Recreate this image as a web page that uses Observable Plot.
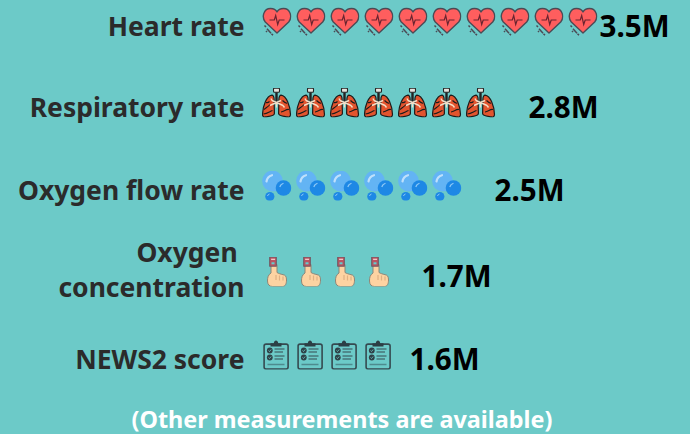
<!DOCTYPE html>
<html><head><meta charset="utf-8">
<script src="https://cdn.jsdelivr.net/npm/d3@7"></script>
<script src="https://cdn.jsdelivr.net/npm/@observablehq/plot@0.6"></script>
<style>
html,body{margin:0;padding:0;background:#6ccac8;overflow:hidden}
#c{width:690px;font:700 23.4px "Noto Sans",sans-serif;color:#fff;text-align:center;padding-right:6px;box-sizing:border-box;line-height:26px;margin-top:0}
</style></head><body><div id="chart"></div><div id="c">(Other measurements are available)</div>
<script>
const measures = ["Heart rate","Respiratory rate","Oxygen flow rate","Oxygen concentration","NEWS2 score"];
const axisLabels = ["Heart rate","Respiratory rate","Oxygen flow rate","Oxygen\u00a0\nconcentration","NEWS2 score"];
const millions = [3.5,2.79,2.45,1.72,1.6];
const valueLabels = ["3.5M","2.8M","2.5M","1.7M","1.6M"];
const iconCounts = [10,7,6,4,4];
const iconStepM = 0.34, iconStartM = 0.27;

const svgUri = s => "data:image/svg+xml," + encodeURIComponent(`<svg xmlns="http://www.w3.org/2000/svg" viewBox="0 0 30 30" width="90" height="90">${s}</svg>`);
const heart = svgUri(`
<path d="M15.5 26.5 L3.8 15.5 C-0.2 10.5 2.2 2 9 2 C12.2 2 14.6 3.6 15.5 5.4 C16.4 3.6 18.8 2 22 2 C28.8 2 31.2 10.5 27.2 15.5 Z" fill="#ff5e5e" stroke="#4b4b55" stroke-width="1.4" stroke-linejoin="round"/>
<path d="M8 13.5 H12.8 L14.2 9 L16.2 18 L17.7 13.5 H23" fill="none" stroke="#6b2530" stroke-width="1.2"/>
<path d="M3 19 L4.5 20.5 M5.5 22.3 L9.5 26.8 M4.5 24.5 L5.5 25.5 M10 27.3 L11.5 28.8" stroke="#4b4b55" stroke-width="1.5" fill="none"/>`);
const lungs = svgUri(`
<rect x="12" y="0.6" width="6" height="4.2" rx="1" fill="#e6e3de" stroke="#222" stroke-width="1.1"/>
<path d="M15 5 V15" stroke="#222" stroke-width="2.4"/>
<path d="M12.6 12 C12.6 9 11.5 7.6 10.4 7.6 C5 8.5 1.4 18 1 27 C1 29.4 3 29.7 4.2 29.4 C7.4 28.8 12.9 28.6 12.9 26 Z" fill="#e2542e" stroke="#1d1d1d" stroke-width="1.2"/>
<path d="M17.4 12 C17.4 9 18.5 7.6 19.6 7.6 C25 8.5 28.6 18 29 27 C29 29.4 27 29.7 25.8 29.4 C22.6 28.8 17.1 28.6 17.1 26 Z" fill="#e2542e" stroke="#1d1d1d" stroke-width="1.2"/>
<path d="M2.5 22 C5 20 7 19 8.5 17 M2 26.5 C6 26 8 24 11 23 M4.5 15 C6 15.5 7 15 8 14 M27.5 22 C25 21 23 24 19.5 24.5 M21 13 C23 15 24.5 16 25.5 15.5" fill="none" stroke="#1d1d1d" stroke-width="1.1"/>
<path d="M15 15 L10.5 13 M15 15 L8.5 18 M15 15 L19.5 13 M15 15 L21.5 18 M15 15 V20 M10.5 13 L9.5 11 M21.5 18 L23 20" stroke="#f3ddc6" stroke-width="1.4" fill="none"/>`);
const bubbles = svgUri(`
<circle cx="11" cy="10.5" r="10.4" fill="#63b4f4"/>
<path d="M5 11 C5.5 7.5 7.5 5.5 10.5 4.7" stroke="#bfe0fb" stroke-width="2.2" fill="none" stroke-linecap="round"/>
<circle cx="22" cy="17.5" r="7.8" fill="#1e88e5"/>
<path d="M18.5 16 C19 14.5 20 13.5 21.5 13" stroke="#8ec8f6" stroke-width="1.3" fill="none" stroke-linecap="round"/>
<circle cx="8.3" cy="26" r="4.6" fill="#1e88e5"/>
<path d="M6 25.5 C6.2 24.5 7 23.8 8 23.5" stroke="#8ec8f6" stroke-width="1" fill="none"/>`);
const finger = svgUri(`
<path d="M9.5 8 V16.5 C6.5 18.5 6 21 6 24.5 C6 28 8 30 11 30 H21 C24 30 25 27 25 23.5 C25 20 24 18.5 21.5 18.2 C19 17.5 17 17 15.5 16 V8 Z" fill="#fdd3a2" stroke="#8e8678" stroke-width="1"/>
<path d="M14.5 23.5 V18.5 M18 24 V19 M21.5 24 V20" stroke="#e0b184" stroke-width="1.2" fill="none"/>
<rect x="8.2" y="0.5" width="6.6" height="9.2" fill="#bb5562" stroke="#6e5660" stroke-width="1"/>
<rect x="9.6" y="2.2" width="4" height="1.3" fill="#f3c4c4"/>
<rect x="10" y="5.8" width="3" height="2" fill="#62cdd0"/>`);
const clipboard = svgUri(`
<rect x="2.6" y="4.6" width="24" height="25" rx="2" fill="none" stroke="#354a50" stroke-width="1.6"/>
<path d="M9 7 V3.8 H12.3 C12.6 0.2 16.4 0.2 16.7 3.8 H20 V7 Z" fill="#2c3f45"/>
<circle cx="8.3" cy="11" r="2.9" fill="#2f4248"/><circle cx="8.3" cy="18" r="2.9" fill="#2f4248"/>
<path d="M7 11 L8 12 L9.7 10 M7 18 L8 19 L9.7 17" stroke="#6ccac8" stroke-width="0.8" fill="none"/>
<path d="M13 9.5 H23 M13 12.5 H21.5 M13 16.5 H23 M13 19.5 H21.5" stroke="#354a50" stroke-width="1.2"/>
<path d="M6 25 H23" stroke="#4d8b8e" stroke-width="1.6"/>`);
const iconSrc = [heart,lungs,bubbles,finger,clipboard];

const icons = measures.flatMap((m,r) => d3.range(iconCounts[r]).map(i => ({m, pos: iconStartM + iconStepM*i, src: iconSrc[r]})));
const rows = measures.map((m,r) => ({m, v: millions[r], label: valueLabels[r], axis: axisLabels[r]}));

const font = '"Noto Sans"';
const plot = Plot.plot({
  width: 690, height: 406,
  marginLeft: 0, marginRight: 0, marginTop: 0, marginBottom: 0,
  style: {background: "#6ccac8", fontFamily: font},
  x: {domain: [-2.49, 4.41], range: [0, 690], axis: null},
  y: {type: "ordinal", domain: measures, range: [21, 102, 185, 271, 354], axis: null},
  marks: [
    Plot.image(icons, {x: "pos", y: "m", src: "src", width: 30, height: 30}),
    Plot.text(rows.filter(d => !d.axis.includes("\n")), {x: () => 0, y: "m", text: "axis", textAnchor: "end", dx: -5, dy: 6, fontSize: 26.5, fontWeight: 700, fill: "#2b2b2b"}),
    Plot.text(rows.filter(d => d.axis.includes("\n")), {x: () => 0, y: "m", text: "axis", textAnchor: "end", dx: -5, dy: -3, lineHeight: 1.33, fontSize: 26.5, fontWeight: 700, fill: "#2b2b2b"}),
    Plot.text(rows, {x: "v", y: "m", text: "label", textAnchor: "start", dy: 6, fontSize: 29.6, fontWeight: 700, fill: "#000"})
  ]
});
document.getElementById("chart").append(plot);
</script></body></html>
